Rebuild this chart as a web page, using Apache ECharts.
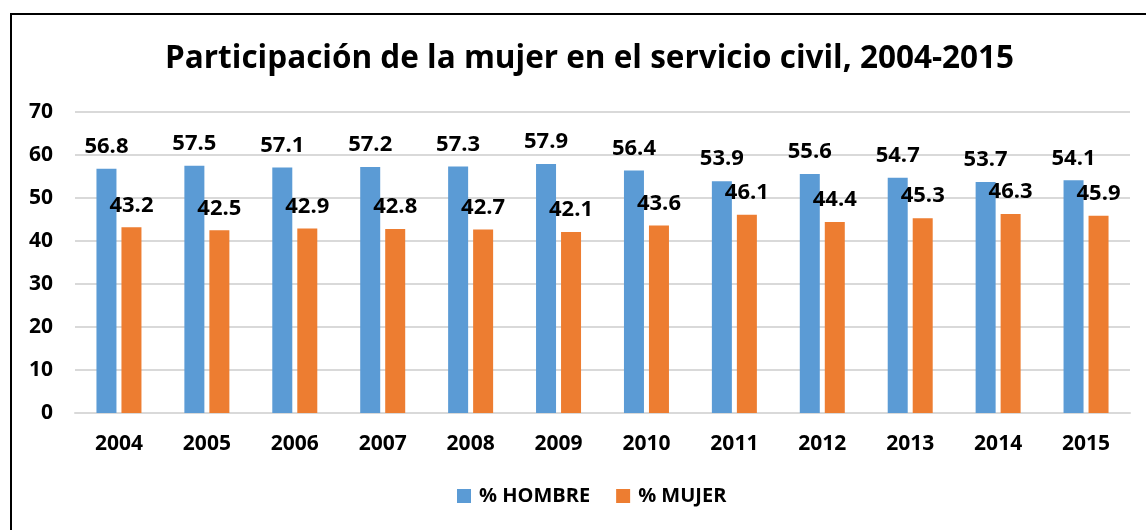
<!DOCTYPE html>
<html>
<head>
<meta charset="utf-8">
<script src="https://cdn.jsdelivr.net/npm/echarts@6/dist/echarts.min.js"></script>
<style>
  html, body { margin: 0; padding: 0; background: #fff; }
  #chart { width: 1146px; height: 530px; }
</style>
</head>
<body>
<div id="chart"></div>
<script>
const years = ['2004', '2005', '2006', '2007', '2008', '2009', '2010', '2011', '2012', '2013', '2014', '2015']
const hombre = [56.8, 57.5, 57.1, 57.2, 57.3, 57.9, 56.4, 53.9, 55.6, 54.7, 53.7, 54.1]
const mujer = [43.2, 42.5, 42.9, 42.8, 42.7, 42.1, 43.6, 46.1, 44.4, 45.3, 46.3, 45.9]
const yTicks = [0, 10, 20, 30, 40, 50, 60, 70]

const font = '"Open Sans", Lato, sans-serif'

const chart = echarts.init(document.getElementById('chart'))

const labelStyle = {
  show: true,
  position: 'top',
  distance: 11,
  color: '#000',
  fontWeight: 'bold',
  fontSize: 22,
  fontFamily: font,
  formatter: (p) => p.value.toFixed(1)
}

chart.setOption({
  animation: false,
  backgroundColor: '#fff',
  graphic: [{
    type: 'rect',
    shape: { x: 11, y: 14, width: 1160, height: 560 },
    style: { fill: 'none', stroke: '#000', lineWidth: 2 }
  }],
  title: {
    text: 'Participación de la mujer en el servicio civil, 2004-2015',
    left: 160,
    top: 38,
    textStyle: { fontFamily: font, fontWeight: 'bold', fontSize: 31.5, color: '#000' }
  },
  legend: {
    bottom: 19,
    left: 452,
    itemWidth: 14,
    itemHeight: 14,
    itemGap: 26,
    icon: 'rect',
    textStyle: { fontFamily: font, fontWeight: 'bold', fontSize: 20, color: '#000', padding: [0, 0, 0, 3] },
    data: ['% HOMBRE', '% MUJER']
  },
  grid: { left: 75, right: 16, top: 112, bottom: 117 },
  xAxis: {
    type: 'category',
    data: years,
    axisLine: { lineStyle: { color: '#d9d9d9', width: 2 } },
    axisTick: { show: false },
    axisLabel: { margin: 21, color: '#000', fontWeight: 'bold', fontSize: 21, fontFamily: font }
  },
  yAxis: {
    type: 'value',
    min: yTicks[0],
    max: yTicks[yTicks.length - 1],
    interval: 10,
    axisLine: { show: false },
    axisTick: { show: false },
    splitLine: { lineStyle: { color: '#d9d9d9', width: 2 } },
    axisLabel: { margin: 22, color: '#000', fontWeight: 'bold', fontSize: 21, fontFamily: font }
  },
  series: [
    {
      name: '% HOMBRE',
      type: 'bar',
      data: hombre,
      barWidth: 20,
      barGap: '25%',
      itemStyle: { color: '#5b9bd5' },
      label: labelStyle
    },
    {
      name: '% MUJER',
      type: 'bar',
      data: mujer,
      barWidth: 20,
      itemStyle: { color: '#ed7d31' },
      label: labelStyle
    }
  ]
})

window.addEventListener('resize', () => chart.resize())
</script>
</body>
</html>
